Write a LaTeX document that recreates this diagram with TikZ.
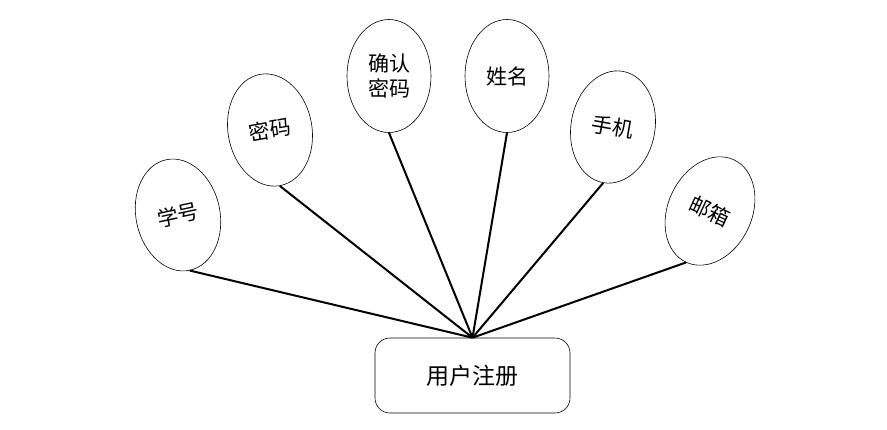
\documentclass[tikz,border=0pt]{standalone}
\usepackage{fontspec}
\newfontfamily\cjk{Noto Sans CJK SC}
\usetikzlibrary{shapes.geometric}
\begin{document}
\begin{tikzpicture}[x=1pt,y=-1pt,
    attr/.style={ellipse,draw,line width=0.6pt,minimum width=84pt,minimum height=113pt,inner sep=0pt,font=\cjk\fontsize{21}{25}\selectfont,align=center},
    entity/.style={rectangle,draw,line width=0.6pt,rounded corners=15pt,minimum width=195pt,minimum height=75pt,font=\cjk\fontsize{23}{27}\selectfont},
    link/.style={line width=2pt}
]
\useasboundingbox (0,0) rectangle (887,429);
\node[entity] (reg) at (472.5,375.5) {用户注册};
\node[attr,rotate=12]  (xh) at (178,215) {学号};
\node[attr,rotate=10]  (mm) at (270,130) {密码};
\node[attr]            (qr) at (389,76)  {确认\\密码};
\node[attr]            (xm) at (507,76)  {姓名};
\node[attr,rotate=-10] (sj) at (613,127) {手机};
\node[attr,rotate=-25] (yx) at (710,211) {邮箱};

\draw[link] (xh.south) -- (reg.north);
\draw[link] (mm.south) -- (reg.north);
\draw[link] (qr.south) -- (reg.north);
\draw[link] (xm.south) -- (reg.north);
\draw[link] (sj.south) -- (reg.north);
\draw[link] (yx.south) -- (reg.north);
\end{tikzpicture}
\end{document}
